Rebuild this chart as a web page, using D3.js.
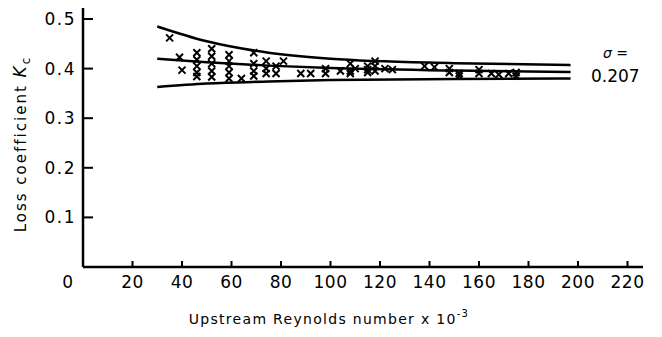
<!DOCTYPE html>
<html>
<head>
<meta charset="utf-8">
<script src="https://cdn.jsdelivr.net/npm/d3@7"></script>
<style>
  body { margin: 0; background: #fff; }
  svg text { font-family: "DejaVu Sans", "Liberation Sans", sans-serif; fill: #000; }
</style>
</head>
<body>
<div id="chart"></div>
<script>
// tick values
const xTicks = [0, 20, 40, 60, 80, 100, 120, 140, 160, 180, 200, 220];
const yTicks = [0.1, 0.2, 0.3, 0.4, 0.5];

// envelope curves (Re x 10^-3, Kc)
const curveRe = [30, 50, 75, 100, 150, 197];
const upperKc = [0.485, 0.455, 0.432, 0.420, 0.411, 0.407];
const middleKc = [0.420, 0.413, 0.406, 0.401, 0.396, 0.393];
const lowerKc = [0.363, 0.370, 0.374, 0.377, 0.379, 0.380];

// measured points
const pointRe = [35, 39, 40,
  46, 46, 46, 46, 46,
  52, 52, 52, 52, 52,
  59, 59, 59, 59, 59,
  64, 69, 69, 69, 69,
  74, 74, 74, 78, 78, 81, 88, 92, 98, 98, 104,
  108, 108, 108, 110, 115, 115, 115, 118, 118, 118, 122, 125,
  138, 142, 148, 148, 152, 152, 160, 160, 165, 168, 172, 175, 175];
const pointKc = [0.462, 0.423, 0.397,
  0.432, 0.418, 0.405, 0.392, 0.384,
  0.440, 0.425, 0.410, 0.395, 0.383,
  0.428, 0.415, 0.405, 0.392, 0.380,
  0.380, 0.432, 0.410, 0.395, 0.385,
  0.415, 0.400, 0.390, 0.405, 0.390, 0.415, 0.390, 0.390, 0.390, 0.400, 0.395,
  0.410, 0.395, 0.390, 0.400, 0.405, 0.398, 0.392, 0.415, 0.405, 0.395, 0.400, 0.398,
  0.405, 0.403, 0.400, 0.392, 0.390, 0.385, 0.398, 0.390, 0.390, 0.388, 0.390, 0.392, 0.385];

const width = 662, height = 337;
const svg = d3.select("#chart").append("svg")
  .attr("width", width).attr("height", height);

const x = d3.scaleLinear().domain([0, 220]).range([83, 627.5]);
const y = d3.scaleLinear().domain([0, 0.5]).range([267, 19]);

// axes lines
svg.append("line").attr("x1", 83).attr("x2", 643).attr("y1", y(0)).attr("y2", y(0))
  .attr("stroke", "#000").attr("stroke-width", 2.5);
svg.append("line").attr("x1", 83).attr("x2", 83).attr("y1", y(0)).attr("y2", 8)
  .attr("stroke", "#000").attr("stroke-width", 2.5);

// x ticks (pointing up)
svg.selectAll(".xt").data(xTicks.filter(d => d > 0)).enter().append("line")
  .attr("x1", d => x(d)).attr("x2", d => x(d))
  .attr("y1", y(0)).attr("y2", y(0) - 6)
  .attr("stroke", "#000").attr("stroke-width", 2);
svg.selectAll(".xl").data(xTicks).enter().append("text")
  .attr("x", d => d === 0 ? x(d) - 15 : x(d))
  .attr("y", 288)
  .attr("text-anchor", "middle")
  .style("font-size", "17px")
  .style("letter-spacing", "0.5px")
  .text(d => d);

// y ticks (pointing right)
svg.selectAll(".yt").data(yTicks).enter().append("line")
  .attr("x1", 83).attr("x2", 93)
  .attr("y1", d => y(d)).attr("y2", d => y(d))
  .attr("stroke", "#000").attr("stroke-width", 2);
svg.selectAll(".yl").data(yTicks).enter().append("text")
  .attr("x", 76).attr("y", d => y(d) + 6)
  .attr("text-anchor", "end")
  .style("font-size", "17px")
  .style("letter-spacing", "1.5px")
  .text(d => d.toFixed(1));

// envelope curves
const line = d3.line().x(d => x(d[0])).y(d => y(d[1])).curve(d3.curveMonotoneX);
[upperKc, middleKc, lowerKc].forEach(ks => {
  svg.append("path")
    .datum(curveRe.map((r, i) => [r, ks[i]]))
    .attr("d", line)
    .attr("fill", "none")
    .attr("stroke", "#000")
    .attr("stroke-width", 2.5);
});

// x markers
const pts = pointRe.map((r, i) => [r, pointKc[i]]);
const s = 3.5;
svg.selectAll(".pt").data(pts).enter().append("path")
  .attr("d", d => {
    const cx = x(d[0]), cy = y(d[1]);
    return `M${cx - s},${cy - s}L${cx + s},${cy + s}M${cx - s},${cy + s}L${cx + s},${cy - s}`;
  })
  .attr("stroke", "#000").attr("stroke-width", 2);

// sigma label
svg.append("text").attr("x", 603).attr("y", 58)
  .style("font-size", "14px").style("font-style", "italic")
  .text("\u03c3 =");
svg.append("text").attr("x", 591).attr("y", 82)
  .style("font-size", "17px")
  .text("0.207");

// y axis title
const yt = svg.append("text")
  .attr("transform", "translate(26,144) rotate(-90)")
  .attr("text-anchor", "middle")
  .style("font-size", "15px")
  .style("letter-spacing", "2px");
yt.append("tspan").text("Loss coefficient  ");
yt.append("tspan").style("font-style", "italic").style("font-size", "17px").text("K");
yt.append("tspan").attr("dy", 4).style("font-size", "12px").text("c");

// x axis title
const xtitle = svg.append("text")
  .attr("x", 329).attr("y", 324)
  .attr("text-anchor", "middle")
  .style("font-size", "14px")
  .style("letter-spacing", "1.3px");
xtitle.append("tspan").text("Upstream Reynolds number x 10");
xtitle.append("tspan").attr("dy", -7).style("font-size", "10px").text("-3");
</script>
</body>
</html>
